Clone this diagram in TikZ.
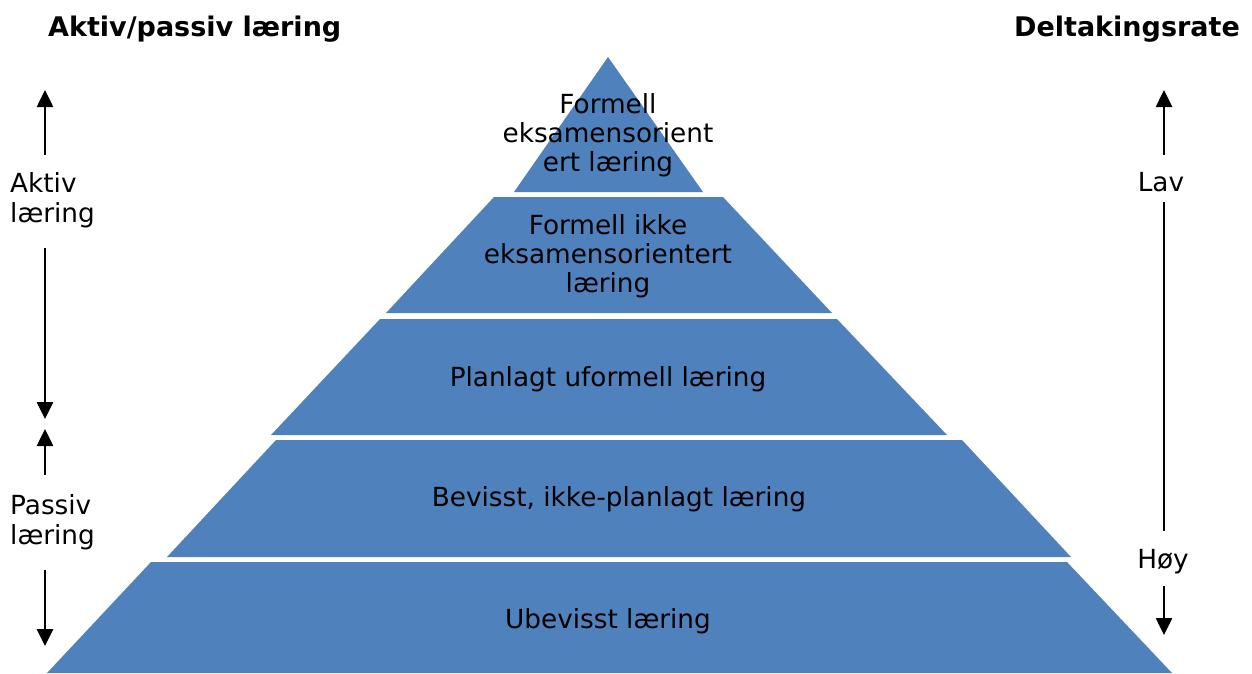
\documentclass[tikz,border=0pt]{standalone}
\usepackage{fontspec}
\setmainfont{DejaVu Sans}
\usepackage{xcolor}
\usepackage{tikz}
\usetikzlibrary{arrows.meta}

\definecolor{lagblaa}{HTML}{4F81BD}

\tikzset{
	lag/.style={fill=lagblaa},
	lagtekst/.style={align=center, inner sep=0pt, font=\fontsize{26.3}{29}\selectfont},
	sidetekst/.style={align=left, inner sep=0pt, font=\fontsize{26.3}{30}\selectfont},
	overskrift/.style={inner sep=0pt, font=\fontsize{27}{30}\selectfont\bfseries},
	pil/.style={line width=2.6pt, -{Triangle[width=16pt,length=17pt]}},
	strek/.style={line width=2.6pt}
}

\begin{document}
\begin{tikzpicture}[x=1pt,y=-1pt]
	\useasboundingbox (0,0) rectangle (1252,673);
	\fill[lag] (608,57) -- (703,192) -- (514,192) -- cycle;
	\fill[lag] (494,197) -- (723,197) -- (832,313) -- (386,313) -- cycle;
	\fill[lag] (380,319) -- (837,319) -- (947,435) -- (271,435) -- cycle;
	\fill[lag] (276,440) -- (962,440) -- (1071,557) -- (167,557) -- cycle;
	\fill[lag] (151,562) -- (1067,562) -- (1172,673) -- (47,673) -- cycle;

	\node[lagtekst] (lag1) at (608,135) {Formell\\eksamensorient\\ert læring};
	\node[lagtekst] (lag2) at (608,256) {Formell ikke\\eksamensorientert\\læring};
	\node[lagtekst] (lag3) at (608,379) {Planlagt uformell læring};
	\node[lagtekst] (lag4) at (619,499) {Bevisst, ikke-planlagt læring};
	\node[lagtekst] (lag5) at (608,621) {Ubevisst læring};

	\node[overskrift, anchor=base west] (venstre) at (48,36) {Aktiv/passiv læring};
	\node[overskrift, anchor=base east] (hoyre) at (1240,36) {Deltakingsrate};

	\node[sidetekst, anchor=west] (aktiv) at (10,200) {Aktiv\\læring};
	\node[sidetekst, anchor=west] (passiv) at (10,522) {Passiv\\læring};
	\node[sidetekst, anchor=base] (lav) at (1161,191) {Lav};
	\node[sidetekst, anchor=base] (hoy) at (1163,568) {Høy};

	\coordinate (aktivA) at (45,155);   \coordinate (aktivB) at (45,90);
	\coordinate (aktivC) at (45,248);   \coordinate (aktivD) at (45,419);
	\coordinate (passivA) at (45,475);  \coordinate (passivB) at (45,429);
	\coordinate (passivC) at (45,570);  \coordinate (passivD) at (45,646);
	\coordinate (lavA) at (1164,155);   \coordinate (lavB) at (1164,90);
	\coordinate (lavC) at (1164,202);   \coordinate (hoyC) at (1164,531);
	\coordinate (hoyA) at (1164,586);   \coordinate (hoyB) at (1164,635);

	\foreach \fra/\til in {aktivA/aktivB, aktivC/aktivD, passivA/passivB, passivC/passivD, lavA/lavB, hoyA/hoyB}
		\draw[pil] (\fra) -- (\til);
	\draw[strek] (lavC) -- (hoyC);
\end{tikzpicture}
\end{document}
